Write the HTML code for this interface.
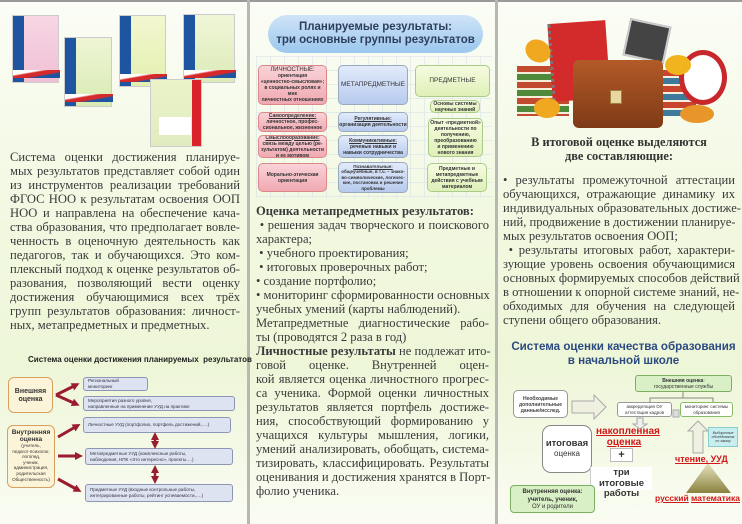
<!DOCTYPE html>
<html><head><meta charset="utf-8">
<style>
*{margin:0;padding:0;box-sizing:border-box}
body{width:742px;height:524px;position:relative;overflow:hidden;background:#f2f8e2;font-family:"Liberation Serif",serif;color:#333}
.panel{position:absolute;top:0;height:524px;background:linear-gradient(180deg,#fbfdf6 0%,#f1f8df 45%,#eef6d8 70%,#fafcf3 100%)}
.abs{position:absolute}
.t{position:absolute;font-size:12.6px;line-height:14px;color:#3a3a3a}
.t div{text-align:justify;text-align-last:justify;white-space:nowrap;height:14px}
.t div.l{text-align-last:left}
.sans{font-family:"Liberation Sans",sans-serif}
.bx{position:absolute;border-radius:5px;font-family:"Liberation Sans",sans-serif;font-size:5px;line-height:6px;text-align:center;font-weight:bold;color:#333;display:flex;align-items:center;justify-content:center;flex-direction:column;overflow:hidden}
.pk{background:linear-gradient(#f9d3d8,#f0a9b2);border:1px solid #d88}
.bl{background:linear-gradient(#e2ebfb,#b7caee);border:1px solid #9ab}
.gr{background:linear-gradient(#f5fbe0,#dff0b8);border:1px solid #ac8}
.lb{position:absolute;background:#dde3f1;border:1px solid #8d96b5;border-radius:3px;font-family:"Liberation Sans",sans-serif;font-size:4.6px;line-height:6px;color:#334;padding:1px 4px;display:flex;flex-direction:column;justify-content:center}
.book{position:absolute;border:1px solid #ccc}
.spine{position:absolute;left:0;top:0;bottom:0;width:11px;background:#1f55a0}
.rb{position:absolute;font-family:"Liberation Sans",sans-serif;font-weight:bold;color:#d01818;text-decoration:underline}
</style></head><body>
<div class="panel" style="left:0;width:247px"></div>
<div class="panel" style="left:250px;width:245px"></div>
<div class="panel" style="left:498px;width:244px"></div>
<div class="abs" style="left:0;top:0;width:742px;height:2px;background:#9a9a9a"></div>
<div class="abs" style="left:247px;top:0;width:3px;height:524px;background:#b8b8b0"></div>
<div class="abs" style="left:495px;top:0;width:3px;height:524px;background:#b8b8b0"></div>

<!-- books top-left -->
<div class="book" style="left:12px;top:15px;width:47px;height:68px;background:linear-gradient(#f7d6e4,#f0c0d5)"><div class="spine"></div><div class="abs" style="left:0;bottom:4px;width:47px;height:8px;background:linear-gradient(170deg,#fff 30%,#d62a2a 40%,#d62a2a 60%,#1f55a0 70%)"></div></div>
<div class="book" style="left:64px;top:37px;width:48px;height:70px;background:linear-gradient(#eef5d6,#d9ebb2)"><div class="spine"></div><div class="abs" style="left:0;bottom:4px;width:48px;height:8px;background:linear-gradient(170deg,#fff 30%,#d62a2a 40%,#d62a2a 60%,#1f55a0 70%)"></div></div>
<div class="book" style="left:119px;top:15px;width:47px;height:72px;background:linear-gradient(#f3f7d0,#e3efb0)"><div class="spine"></div><div class="abs" style="left:0;bottom:4px;width:47px;height:8px;background:linear-gradient(170deg,#fff 30%,#d62a2a 40%,#d62a2a 60%,#1f55a0 70%)"></div></div>
<div class="book" style="left:183px;top:14px;width:52px;height:69px;background:linear-gradient(#f0f6d8,#dcebb8)"><div class="spine"></div><div class="abs" style="left:0;bottom:4px;width:52px;height:8px;background:linear-gradient(170deg,#fff 30%,#d62a2a 40%,#d62a2a 60%,#1f55a0 70%)"></div></div>
<div class="book" style="left:150px;top:79px;width:52px;height:68px;background:linear-gradient(#eaf3c8,#e0ecc0)"><div class="abs" style="right:0;top:0;bottom:0;width:9px;background:#d8232a"></div><div class="abs" style="left:8px;top:37px;width:32px;height:18px;background:#fff"></div></div>

<!-- left text -->
<div class="t" style="left:10px;top:150px;width:230px">
<div>Система оценки достижения планируе-</div>
<div>мых результатов представляет собой один</div>
<div>из инструментов реализации требований</div>
<div>ФГОС НОО к результатам освоения ООП</div>
<div>НОО и направлена на обеспечение кача-</div>
<div>ства образования, что предполагает вовле-</div>
<div>ченность в оценочную деятельность как</div>
<div>педагогов, так и обучающихся. Это ком-</div>
<div>плексный подход к оценке результатов об-</div>
<div>разования, позволяющий вести оценку</div>
<div>достижения обучающимися всех трёх</div>
<div>групп результатов образования: личност-</div>
<div class="l">ных, метапредметных и предметных.</div>
</div>

<!-- bottom-left diagram -->
<div class="abs sans" style="left:28px;top:355px;font-size:8px;font-weight:bold;color:#222">Система оценки достижения планируемых&nbsp; результатов</div>
<div class="abs sans" style="left:8px;top:377px;width:45px;height:36px;background:#fcf4d8;border:1px solid #d8a060;border-radius:6px;font-size:7px;font-weight:bold;text-align:center;line-height:8px;padding-top:10px;color:#333">Внешняя<br>оценка</div>
<div class="abs sans" style="left:7px;top:425px;width:48px;height:63px;background:#fcf4d8;border:1px solid #d8a060;border-radius:6px;font-size:4.6px;text-align:center;line-height:5.6px;padding-top:3px;color:#333"><b style="font-size:6.5px;line-height:7px">Внутренняя<br>оценка</b><br>(учитель,<br>педагог-психолог,<br>логопед,<br>ученик,<br>администрация,<br>родительская<br>Общественность)</div>
<div class="lb" style="left:83px;top:377px;width:65px;height:14px">Региональный мониторинг</div>
<div class="lb" style="left:83px;top:396px;width:152px;height:15px">Мероприятия разного уровня,<br>направленные на применение УУД на практике</div>
<div class="lb" style="left:83px;top:417px;width:148px;height:16px">Личностные УУД (портфолио, портфель достижений,….)</div>
<div class="lb" style="left:85px;top:448px;width:148px;height:17px">Метапредметные УУД (комплексные работы,<br>наблюдения, НПК «Это интересно», проекты….)</div>
<div class="lb" style="left:85px;top:484px;width:148px;height:18px">Предметные УУД (входные контрольные работы,<br>интегрированные работы, рейтинг успеваемости,….)</div>
<svg class="abs" style="left:0;top:345px" width="247" height="179">
<defs>
<marker id="ar" markerUnits="userSpaceOnUse" markerWidth="8" markerHeight="8" refX="4" refY="4" orient="auto"><path d="M0,0L8,4L0,8z" fill="#9b1c2e"/></marker>
<marker id="as" markerUnits="userSpaceOnUse" markerWidth="8" markerHeight="8" refX="4" refY="4" orient="auto-start-reverse"><path d="M0,0L8,4L0,8z" fill="#9b1c2e"/></marker>
</defs>
<g stroke="#9b1c2e" stroke-width="3" fill="none" marker-end="url(#ar)">
<line x1="56" y1="50" x2="76" y2="40"/><line x1="56" y1="50" x2="76" y2="59"/>
<line x1="58" y1="92" x2="77" y2="81"/><line x1="58" y1="111" x2="79" y2="111"/><line x1="58" y1="134" x2="78" y2="145"/>
</g>
<g stroke="#9b1c2e" stroke-width="2.5" marker-end="url(#ar)" marker-start="url(#as)">
<line x1="155" y1="91" x2="155" y2="100"/><line x1="155" y1="124" x2="155" y2="135"/>
</g>
</svg>

<!-- top middle diagram -->
<div class="abs" style="left:256px;top:56px;width:236px;height:142px;background-image:linear-gradient(#dde6ea 1px,transparent 1px),linear-gradient(90deg,#dde6ea 1px,transparent 1px);background-size:14px 14px;opacity:.7"></div>
<div class="abs sans" style="left:268px;top:15px;width:215px;height:38px;border-radius:19px;background:linear-gradient(#cfe4f8,#9cc7ee);text-align:center;font-weight:bold;font-size:11.5px;line-height:13px;padding-top:6px;color:#2d3f5c">Планируемые результаты:<br>три основные группы результатов</div>
<div class="bx pk" style="left:258px;top:65px;width:69px;height:40px"><span style="font-size:6px;font-weight:normal">ЛИЧНОСТНЫЕ:</span>ориентация<br>«ценностно-смысловая»;<br>в социальных ролях и мне<br>личностных отношениях</div>
<div class="bx pk" style="left:258px;top:112px;width:69px;height:20px"><u>Самоопределение:</u>личностное, профес-<br>сиональное, жизненное</div>
<div class="bx pk" style="left:258px;top:135px;width:69px;height:23px"><u>Смыслообразование:</u>связь между целью (ре-<br>зультатом) деятельности<br>и ее мотивом</div>
<div class="bx pk" style="left:258px;top:163px;width:69px;height:29px">Морально-этическая<br>ориентация</div>
<div class="bx bl" style="left:338px;top:65px;width:70px;height:40px;font-size:6.5px;font-weight:normal">МЕТАПРЕДМЕТНЫЕ</div>
<div class="bx bl" style="left:338px;top:112px;width:70px;height:20px"><u>Регулятивные:</u>организация деятельности</div>
<div class="bx bl" style="left:338px;top:135px;width:70px;height:23px"><u>Коммуникативные:</u>речевые навыки и<br>навыки сотрудничества</div>
<div class="bx bl" style="left:338px;top:162px;width:70px;height:31px;font-size:4.5px;line-height:5.5px"><u>Познавательные:</u>общеучебные, в т.ч. – знако-<br>во-символические, логичес-<br>кие, постановка и решение<br>проблемы</div>
<div class="bx gr" style="left:415px;top:65px;width:75px;height:32px;font-size:6.5px;font-weight:normal">ПРЕДМЕТНЫЕ</div>
<div class="bx gr" style="left:430px;top:100px;width:50px;height:13px">Основы системы<br>научных знаний</div>
<div class="bx gr" style="left:428px;top:118px;width:55px;height:39px">Опыт «предметной»<br>деятельности по<br>получению,<br>преобразованию<br>и применению<br>нового знания</div>
<div class="bx gr" style="left:427px;top:163px;width:60px;height:29px">Предметные и<br>метапредметные<br>действия с учебным<br>материалом</div>

<!-- middle text -->
<div class="t" style="left:256px;top:204px;width:233px">
<div class="l"><b>Оценка метапредметных результатов:</b></div>
<div>&nbsp;• решения задач творческого и поискового</div>
<div class="l">характера;</div>
<div class="l">&nbsp;• учебного проектирования;</div>
<div class="l">&nbsp;• итоговых проверочных работ;</div>
<div class="l">• создание портфолио;</div>
<div>• мониторинг сформированности основных</div>
<div class="l">учебных умений (карты наблюдений).</div>
<div>Метапредметные диагностические рабо-</div>
<div class="l">ты (проводятся 2 раза в год)</div>
<div><b>Личностные результаты</b> не подлежат ито-</div>
<div>говой оценке. Внутренней оцен-</div>
<div>кой является оценка личностного прогрес-</div>
<div>са ученика. Формой оценки личностных</div>
<div>результатов является портфель достиже-</div>
<div>ния, способствующий формированию у</div>
<div>учащихся культуры мышления, логики,</div>
<div>умений анализировать, обобщать, система-</div>
<div>тизировать, классифицировать. Результаты</div>
<div>оценивания и достижения хранятся в Порт-</div>
<div class="l">фолио ученика.</div>
</div>

<!-- right picture -->
<div class="abs" style="left:517px;top:66px;width:52px;height:50px;background:repeating-linear-gradient(#c24a2e 0 6px,#f4eedb 6px 8px,#4f8a3a 8px 14px,#f4eedb 14px 16px)"></div>
<div class="abs" style="left:658px;top:70px;width:38px;height:46px;background:repeating-linear-gradient(#c8442c 0 6px,#f4eedb 6px 8px,#3d7a9b 8px 14px,#f4eedb 14px 16px)"></div>
<div class="abs" style="left:550px;top:22px;width:58px;height:78px;background:#d32b2b;border-left:3px dotted #777;transform:rotate(-4deg)"></div>
<div class="abs" style="left:626px;top:22px;width:42px;height:38px;background:#444;transform:rotate(12deg);border:2px solid #ccc"></div>
<div class="abs" style="left:679px;top:50px;width:48px;height:55px;border-radius:50%;background:#fff;border:5px solid #c8282c"></div>
<div class="abs" style="left:573px;top:60px;width:90px;height:68px;border-radius:6px;background:linear-gradient(#b35a28,#7e3a16)"></div>
<div class="abs" style="left:610px;top:90px;width:12px;height:14px;background:#e8d8a0;border:1px solid #a08040"></div>
<div class="abs" style="left:525px;top:40px;width:26px;height:22px;border-radius:50%;background:#f0a820;transform:rotate(30deg)"></div>
<div class="abs" style="left:534px;top:98px;width:26px;height:20px;border-radius:50%;background:#f0a820"></div>
<div class="abs" style="left:680px;top:105px;width:34px;height:18px;border-radius:50%;background:#e8962a"></div>
<div class="abs" style="left:665px;top:55px;width:26px;height:20px;border-radius:50%;background:#f2b41e"></div>

<!-- right text -->
<div class="abs" style="left:503px;top:135px;width:232px;text-align:center;font-weight:bold;font-size:12.4px;line-height:14px;color:#333">В итоговой оценке выделяются<br>две составляющие:</div>
<div class="t" style="left:503px;top:173px;width:232px">
<div>• результаты промежуточной аттестации</div>
<div>обучающихся, отражающие динамику их</div>
<div>индивидуальных образовательных достиже-</div>
<div>ний, продвижение в достижении планируе-</div>
<div class="l">мых результатов освоения ООП;</div>
<div>&nbsp;• результаты итоговых работ, характери-</div>
<div>зующие уровень освоения обучающимися</div>
<div>основных формируемых способов действий</div>
<div>в отношении к опорной системе знаний, не-</div>
<div>обходимых для обучения на следующей</div>
<div class="l">ступени общего образования.</div>
</div>

<!-- bottom-right diagram -->
<div class="abs sans" style="left:505px;top:340px;width:237px;text-align:center;font-weight:bold;font-size:11.6px;line-height:14px;color:#2b4a80">Система оценки качества образования<br>в начальной школе</div>
<svg class="abs" style="left:498px;top:370px" width="244" height="154">
<path d="M185 22V28H215V32M185 28H152V32" stroke="#888" fill="none"/>
<path d="M74 31h22v-6l12 12-12 12v-6H74z" fill="#f0f0e0" stroke="#aaa"/>
<path d="M175 40h6v7h-6z" fill="#ddd" stroke="#aaa"/>
<path d="M195 83v-22h-5l10-10 10 10h-5v22z" fill="#f0f0e0" stroke="#aaa"/>
<path d="M139 48v6h-4l7 5 7-5h-4v-6z" fill="#eee" stroke="#aaa"/>
<defs><linearGradient id="tg" x1="0" y1="0" x2="0" y2="1"><stop offset="0" stop-color="#e8e4c0"/><stop offset="1" stop-color="#8a8240"/></linearGradient></defs>
<path d="M210 93L233 123H188z" fill="url(#tg)"/>
</svg>
<div class="abs sans" style="left:635px;top:375px;width:97px;height:17px;background:#d9efc6;border:1px solid #7cb060;border-radius:3px;font-size:5px;line-height:6px;text-align:center;padding-top:2px"><b>Внешняя оценка</b>:<br>государственные службы</div>
<div class="abs sans" style="left:513px;top:390px;width:55px;height:28px;background:#fff;border:1px solid #999;border-radius:5px;font-size:5px;line-height:6px;text-align:center;font-weight:bold;padding-top:5px;color:#444">Необходимые<br>дополнительные<br>данные/исслед.</div>
<div class="abs sans" style="left:617px;top:402px;width:55px;height:15px;background:#fff;border:1px solid #999;border-radius:3px;font-size:4.5px;line-height:5.5px;text-align:center;padding-top:1px">аккредитация ОУ<br>аттестация кадров</div>
<div class="abs sans" style="left:680px;top:402px;width:53px;height:15px;background:#fff;border:1px solid #8b6;border-radius:3px;font-size:4.5px;line-height:5.5px;text-align:center;padding-top:1px">мониторинг системы<br>образования</div>
<div class="abs sans" style="left:542px;top:425px;width:50px;height:48px;background:#fff;border:1px solid #888;border-radius:9px;text-align:center;padding-top:13px;font-size:8px;line-height:10px;color:#333"><b style="font-size:9.5px">итоговая</b><br>оценка</div>
<div class="rb" style="left:596px;top:426px;width:56px;text-align:center;font-size:10px;line-height:11px">накопленная<br>оценка</div>
<div class="abs sans" style="left:610px;top:448px;width:23px;height:14px;background:#fff;border:1px solid #bbb;text-align:center;font-weight:bold;font-size:11px;line-height:12px">+</div>
<div class="abs sans" style="left:590px;top:467px;width:62px;height:23px;background:#fff;border-left:1px solid #ccc;text-align:center;font-weight:bold;font-size:9.5px;line-height:10.5px;padding-top:1px">три итоговые<br>работы</div>
<div class="abs sans" style="left:510px;top:485px;width:85px;height:28px;background:#d9efc6;border:1px solid #7cb060;border-radius:4px;text-align:center;font-size:6px;line-height:7.5px;padding-top:3px"><b>Внутренняя оценка:<br>учитель, ученик,</b><br>ОУ и родители</div>
<div class="abs sans" style="left:708px;top:427px;width:30px;height:20px;background:#c9eef0;border:1px solid #8cc;font-size:3.5px;line-height:4px;text-align:center;padding-top:3px;font-style:italic">Выборочные<br>обследования<br>по заказу</div>
<div class="rb" style="left:675px;top:454px;font-size:9px">чтение, УУД</div>
<div class="rb" style="left:655px;top:493px;font-size:8.5px">русский</div>
<div class="rb" style="left:691px;top:493px;font-size:8.5px">математика</div>
</body></html>
